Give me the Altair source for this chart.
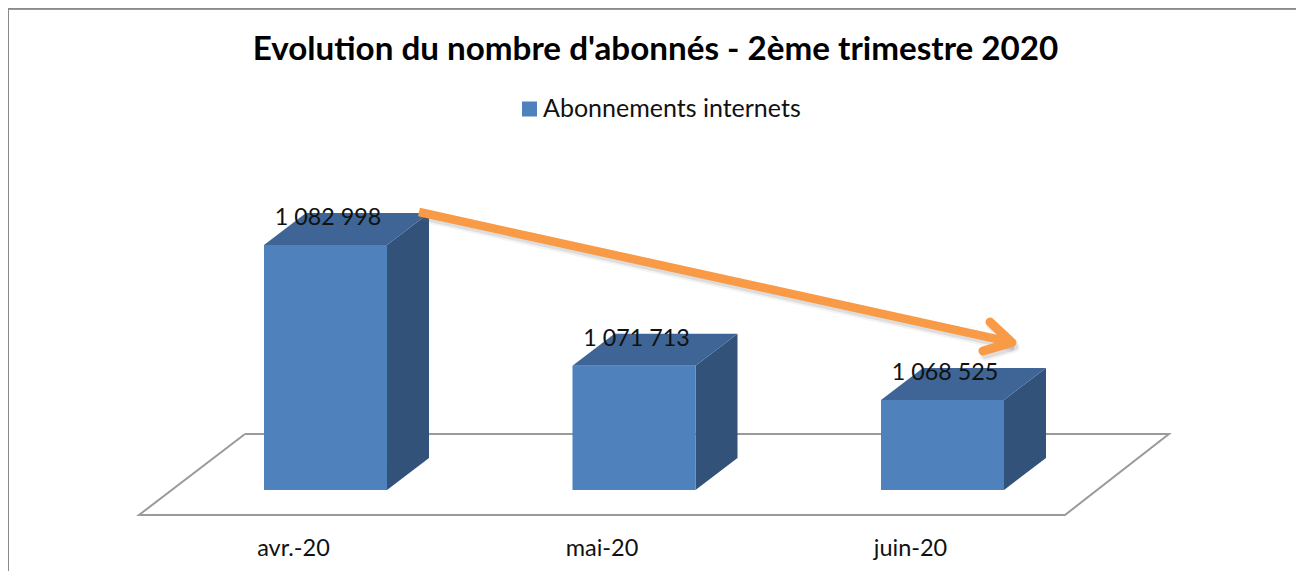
import altair as alt
import pandas as pd

TITLE = "Evolution du nombre d'abonnés - 2ème trimestre 2020"
SERIES = "Abonnements internets"
months = ["avr.-20", "mai-20", "juin-20"]
positions = [0, 1, 2]
values = [1082998, 1071713, 1068525]
value_labels = ["1 082 998", "1 071 713", "1 068 525"]
base_value = 1060122

half_width = 0.1994
depth_x = 0.1361
depth_y = 2988

floor_x = [-0.261, 2.734, 2.397, -0.6045, -0.261]
floor_y = [1065351, 1065351, 1057788, 1057788, 1065351]
shaft_x = [0.3031, 2.2253]
shaft_y = [1086079, 1073901]
head_x = [2.154, 2.2253, 2.1313]
head_y = [1075808, 1073901, 1073101]

W, H = 1288, 563
X = alt.Scale(domain=[-1.0292, 3.1459], range=[0, W], nice=False, zero=False)
Y = alt.Scale(domain=[1052559, 1105127], range=[H, 0], nice=False, zero=False)
FONT = "Lato"

front, side, top = [], [], []
for p, v, lab in zip(positions, values, value_labels):
    x0, x1 = p - half_width, p + half_width
    front.append(dict(x=x0, x2=x1, y=v, y2=base_value, series=SERIES, c=p, label=lab))
    side += [
        dict(k=p, x=x1, lo=base_value, hi=v),
        dict(k=p, x=x1 + depth_x, lo=base_value + depth_y, hi=v + depth_y),
    ]
    top += [
        dict(k=p, x=x0, lo=v, hi=v),
        dict(k=p, x=x0 + depth_x, lo=v, hi=v + depth_y),
        dict(k=p, x=x1, lo=v, hi=v + depth_y),
        dict(k=p, x=x1 + depth_x, lo=v + depth_y, hi=v + depth_y),
    ]
front, side, top = pd.DataFrame(front), pd.DataFrame(side), pd.DataFrame(top)
floor = pd.DataFrame({"x": floor_x, "y": floor_y, "o": range(len(floor_x))})
shaft = pd.DataFrame({"x": shaft_x, "y": shaft_y, "o": range(2)})
head = pd.DataFrame({"x": head_x, "y": head_y, "o": range(3)})

label_expr = " : ".join(
    f"datum.value == {p} ? '{m}'" for p, m in zip(positions[:-1], months[:-1])
) + f" : '{months[-1]}'"

X_AXIS = alt.Axis(
    values=positions, labelExpr=label_expr, domain=False, ticks=False, grid=False,
    offset=-23, labelPadding=0, labelOffset=-32.5, labelFont=FONT, labelFontSize=23.5,
    labelColor="#111111", labelBaseline="middle", labelFlush=False, labelOverlap=False,
    title=None)

xq = lambda f="x": alt.X(f"{f}:Q", scale=X, axis=X_AXIS)
yq = lambda f="y": alt.Y(f"{f}:Q", scale=Y, axis=None)

floor_layer = alt.Chart(floor).mark_line(color="#9a9a9a", strokeWidth=2).encode(
    x=xq(), y=yq(), order="o:Q")

bars = alt.Chart(front).mark_rect().encode(
    x=xq(), x2="x2:Q", y=yq(), y2="y2:Q",
    color=alt.Color("series:N", scale=alt.Scale(domain=[SERIES], range=["#4f81bd"]),
        legend=alt.Legend(title=None, orient="none", legendX=509, legendY=88.5,
            symbolType="square", symbolSize=225, symbolStrokeWidth=0,
            labelFont=FONT, labelFontSize=25, labelColor="#111111", labelOffset=1,
            labelLimit=400)))

side_layer = alt.Chart(side).mark_area(color="#325279", opacity=1).encode(
    x=xq(), y=yq("lo"), y2="hi:Q", detail="k:N")
top_layer = alt.Chart(top).mark_area(color="#3e6595", opacity=1).encode(
    x=xq(), y=yq("lo"), y2="hi:Q", detail="k:N")

labels = alt.Chart(front).mark_text(font=FONT, fontSize=23.3, color="#111111", dx=2.5, dy=-27,
                                    baseline="middle", align="center").encode(
    x=xq("c"), y=yq(), text="label:N")


def arrow(df, color, width, opacity=1.0, cap="round", shift=(0, 0)):
    d = df.assign(x=df.x + shift[0], y=df.y + shift[1])
    return alt.Chart(d).mark_line(color=color, strokeWidth=width, opacity=opacity,
                                  strokeCap=cap, strokeJoin="round").encode(
        x=xq(), y=yq(), order="o:Q")


shadow = (0.008, -420)
layers = [
    arrow(shaft, "#666666", 11, 0.08, "butt", shadow), arrow(head, "#666666", 11, 0.08, "round", shadow),
    arrow(shaft, "#666666", 7, 0.15, "butt", shadow), arrow(head, "#666666", 7, 0.15, "round", shadow),
    arrow(shaft, "#f99a46", 8.5, 1, "butt"), arrow(head, "#f99a46", 9, 1, "round"),
]

frame_left = alt.Chart(front).mark_rule(color="#8a8a8a", strokeWidth=2).encode(
    x=alt.value(0), y=alt.value(0), y2=alt.value(H))
frame_top = alt.Chart(front).mark_rule(color="#8a8a8a", strokeWidth=2).encode(
    y=alt.value(0.5), x=alt.value(0), x2=alt.value(W))

chart = alt.layer(
    floor_layer, side_layer, top_layer, bars, labels, *layers, frame_left, frame_top
).properties(
    width=W, height=H, padding=0,
    autosize=alt.AutoSizeParams(type="none"),
    title=alt.TitleParams(TITLE, font=FONT, fontSize=33.2, fontWeight="bold", color="#000000",
                          anchor="middle", orient="top", baseline="middle", dy=76, dx=3.5, offset=0),
).configure_view(stroke=None)

chart.save("out.html", embed_options={"renderer": "svg", "actions": False})
